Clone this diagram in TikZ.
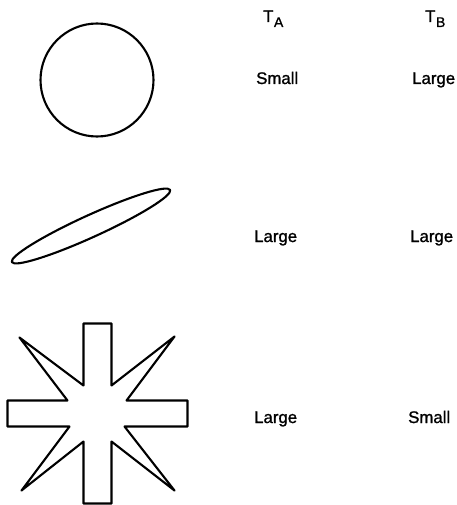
\documentclass[tikz,border=0pt]{standalone}
\usepackage{fontspec}
\setsansfont{Liberation Sans}
\newfontfamily\capfont[FakeBold=1.2]{Liberation Sans}
\usepackage{tikz}

\newcommand{\tsub}[1]{T\kern0.5pt\raisebox{-5pt}{\fontsize{14}{14}\selectfont #1}}

\begin{document}
\begin{tikzpicture}[
    x=1pt, y=-1pt,
    outline/.style={draw, line width=2.1pt, line join=round},
    caption/.style={anchor=base west, inner sep=0pt, font=\capfont\fontsize{16.8}{20}\selectfont},
]
    \useasboundingbox (0,0) rectangle (456,505);

    % column heads
    \node[caption] (headA) at (263,22) {\tsub{A}};
    \node[caption] (headB) at (425,22) {\tsub{B}};

    % circle
    \draw[outline] (97,80) circle[radius=56.5pt];
    \node[caption] (circA) at (256,84) {Small};
    \node[caption] (circB) at (412,84) {Large};

    % thin ellipse
    \draw[outline, shift={(91,226)}, rotate=24.5] (0,0) ellipse[x radius=87pt, y radius=11pt];
    \node[caption] (ellA) at (254,242) {Large};
    \node[caption] (ellB) at (410,242) {Large};

    % star
    \draw[outline, shift={(97.5,413.5)}]
        (-14,-90) -- (14,-90) -- (14,-28) -- (77,-77) -- (29,-13) -- (90,-13)
        -- (90,13) -- (27,13) -- (77,77) -- (14,28) -- (14,90) -- (-14,90)
        -- (-14,28) -- (-76,77) -- (-28,13) -- (-90,13) -- (-90,-13)
        -- (-30,-13) -- (-78,-76) -- (-14,-28) -- cycle;
    \node[caption] (starA) at (254,423) {Large};
    \node[caption] (starB) at (408,423) {Small};
\end{tikzpicture}
\end{document}
